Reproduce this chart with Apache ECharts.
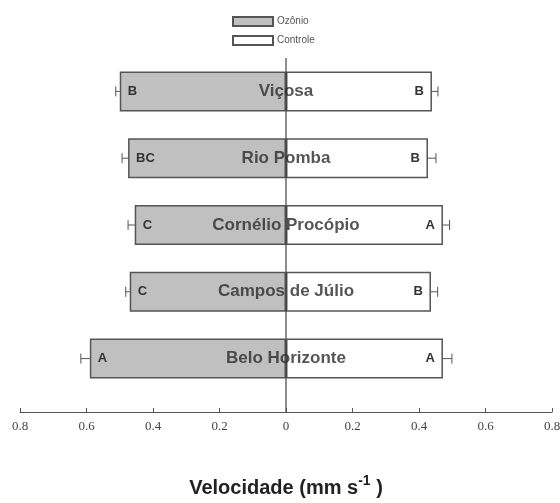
<!DOCTYPE html>
<html>
<head>
<meta charset="utf-8">
<script src="https://cdn.jsdelivr.net/npm/echarts@6/dist/echarts.min.js"></script>
<style>
  html, body { margin: 0; padding: 0; background: #fff; }
  #chart { width: 560px; height: 503px; }
</style>
</head>
<body>
<div id="chart"></div>
<script>
// data (bottom to top, as the category axis draws them)
const sites = ['Belo Horizonte', 'Campos de Júlio', 'Cornélio Procópio', 'Rio Pomba', 'Viçosa']
const ozonio = [0.59, 0.47, 0.455, 0.475, 0.50]
const ozonioErr = [0.027, 0.012, 0.02, 0.018, 0.012]
const ozonioLetters = ['A', 'C', 'C', 'BC', 'B']
const controle = [0.472, 0.436, 0.472, 0.427, 0.439]
const controleErr = [0.027, 0.02, 0.02, 0.024, 0.018]
const controleLetters = ['A', 'B', 'A', 'B', 'B']
const xMin = -0.8
const xMax = 0.8
const xStep = 0.2

const AXIS_OFFSET = 20
const EDGE = '#555'

const chart = echarts.init(document.getElementById('chart'))

// error bar: whisker from the bar end plus a small cap
const errorRender = (params, api) => {
  const v = api.value(0)
  const e = api.value(2)
  const start = api.coord([v, api.value(1)])
  const end = api.coord([v + e, api.value(1)])
  return {
    type: 'group',
    children: [
      { type: 'line', shape: { x1: start[0], y1: start[1], x2: end[0], y2: end[1] }, style: { stroke: EDGE, lineWidth: 1 } },
      { type: 'line', shape: { x1: end[0], y1: end[1] - 5, x2: end[0], y2: end[1] + 5 }, style: { stroke: EDGE, lineWidth: 1 } }
    ]
  }
}

const option = {
  animation: false,
  textStyle: { fontFamily: 'Liberation Sans, Arial, sans-serif' },
  legend: {
    orient: 'vertical',
    left: 232,
    top: 16,
    padding: 0,
    itemWidth: 40,
    itemHeight: 9,
    itemGap: 8,
    icon: 'rect',
    data: ['Ozônio', 'Controle'],
    textStyle: { fontSize: 10, color: '#555', padding: [0, 0, 0, -1] }
  },
  grid: { left: 20, right: 8, top: 58, bottom: 111, containLabel: false, outerBoundsMode: 'none' },
  xAxis: {
    type: 'value',
    min: xMin,
    max: xMax,
    interval: xStep,
    offset: AXIS_OFFSET,
    splitLine: { show: false },
    axisLine: { show: true, lineStyle: { color: EDGE } },
    axisTick: { show: true, inside: true, length: 4, lineStyle: { color: EDGE } },
    axisLabel: {
      color: '#444',
      fontSize: 13,
      fontFamily: 'Liberation Serif, serif',
      margin: 8,
      formatter: (v) => {
        const a = Math.abs(Math.round(v * 10) / 10)
        return a === 0 ? '0' : String(a)
      }
    },
    name: 'Velocidade (mm s{sup|-1} )',
    nameLocation: 'middle',
    nameGap: 62,
    nameTextStyle: {
      fontSize: 20,
      fontWeight: 'bold',
      color: '#222',
      rich: {
        sup: { fontSize: 14, fontWeight: 'bold', color: '#222', verticalAlign: 'bottom', padding: [0, 0, 14, 0] }
      }
    }
  },
  yAxis: {
    type: 'category',
    data: sites,
    axisLine: { show: false },
    axisTick: { show: false },
    axisLabel: { show: false }
  },
  series: [
    {
      name: 'Ozônio',
      type: 'bar',
      stack: 'v',
      barWidth: 40,
      data: ozonio.map(v => -v),
      itemStyle: { color: '#c0c0c0', borderColor: EDGE, borderWidth: 1.5 },
      label: {
        show: true,
        position: 'insideLeft',
        distance: 8,
        formatter: (p) => ozonioLetters[p.dataIndex],
        fontSize: 13,
        fontWeight: 'bold',
        color: '#333'
      }
    },
    {
      name: 'Controle',
      type: 'bar',
      stack: 'v',
      barWidth: 40,
      data: controle,
      itemStyle: { color: '#fff', borderColor: EDGE, borderWidth: 1.5 },
      label: {
        show: true,
        position: 'insideRight',
        distance: 8,
        formatter: (p) => controleLetters[p.dataIndex],
        fontSize: 13,
        fontWeight: 'bold',
        color: '#333'
      }
    },
    {
      type: 'custom',
      silent: true,
      renderItem: errorRender,
      data: ozonio.map((v, i) => [-v, i, -ozonioErr[i]]),
      z: 3
    },
    {
      type: 'custom',
      silent: true,
      renderItem: errorRender,
      data: controle.map((v, i) => [v, i, controleErr[i]]),
      z: 3
    },
    {
      // zero line, running down to the offset x axis
      type: 'custom',
      silent: true,
      data: [[0, 0]],
      z: 4,
      renderItem: (params, api) => {
        const cs = params.coordSys
        const x = api.coord([0, 0])[0]
        return {
          type: 'line',
          shape: { x1: x, y1: cs.y, x2: x, y2: cs.y + cs.height + AXIS_OFFSET },
          style: { stroke: '#444', lineWidth: 1.2 }
        }
      }
    },
    {
      // site names centred on zero
      type: 'scatter',
      silent: true,
      symbolSize: 0,
      z: 5,
      data: sites.map((s, i) => [0, i]),
      label: {
        show: true,
        position: 'inside',
        formatter: (p) => sites[p.dataIndex],
        fontSize: 17,
        fontWeight: 'bold',
        color: '#2a2a2a'
      }
    }
  ]
}

chart.setOption(option)
</script>
</body>
</html>
